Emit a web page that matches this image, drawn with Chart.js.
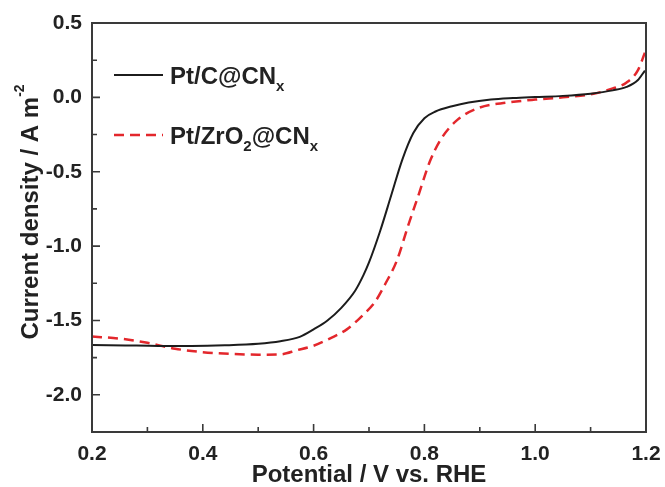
<!DOCTYPE html>
<html>
<head>
<meta charset="utf-8">
<script src="https://cdn.jsdelivr.net/npm/chart.js@4"></script>
<style>
    body { margin: 0; background: #ffffff; }
    #wrap { width: 665px; height: 487px; }
</style>
</head>
<body>
<div id="wrap"><canvas id="chartCanvas" width="665" height="487"></canvas></div>
<script>
"use strict";

// Pt/C@CNx (black, solid)
const ptcX = [0.20, 0.26, 0.32, 0.38, 0.44, 0.50, 0.54, 0.575, 0.60, 0.625, 0.65, 0.675, 0.69, 0.70, 0.72, 0.74,
              0.76, 0.78, 0.80, 0.82, 0.85, 0.88, 0.92, 0.96, 1.00, 1.05, 1.10, 1.14, 1.165, 1.185, 1.198];
const ptcY = [-1.665, -1.668, -1.671, -1.671, -1.667, -1.657, -1.640, -1.610, -1.56, -1.50, -1.415, -1.30, -1.195, -1.11, -0.90, -0.66,
              -0.42, -0.24, -0.14, -0.095, -0.06, -0.035, -0.015, -0.005, 0.002, 0.01, 0.025, 0.047, 0.07, 0.115, 0.18];

// Pt/ZrO2@CNx (red, dashed)
const zrX = [0.20, 0.25, 0.30, 0.35, 0.40, 0.45, 0.50, 0.54, 0.57, 0.60, 0.63, 0.66, 0.69, 0.71, 0.73,
             0.75, 0.77, 0.79, 0.81, 0.83, 0.86, 0.90, 0.95, 1.00, 1.05, 1.10, 1.14, 1.165, 1.185, 1.198];
const zrY = [-1.608, -1.622, -1.65, -1.69, -1.713, -1.725, -1.73, -1.728, -1.70, -1.67, -1.62, -1.56, -1.46, -1.38, -1.25,
             -1.10, -0.87, -0.65, -0.43, -0.28, -0.15, -0.068, -0.035, -0.015, 0.0, 0.02, 0.06, 0.10, 0.18, 0.30];

// Axis ticks
const xTicks = [0.2, 0.4, 0.6, 0.8, 1.0, 1.2];
const xMinorTicks = [0.3, 0.5, 0.7, 0.9, 1.1];
const yTicks = [0.5, 0.0, -0.5, -1.0, -1.5, -2.0];
const yMinorTicks = [0.25, -0.25, -0.75, -1.25, -1.75];

const xTitle = "Potential / V vs. RHE";
const yTitle = "Current density / A m";
const yTitleSup = "-2";

const black = "#1c1c1c";
const red = "#e3272c";
const frameColor = "#3a3a3a";
const textColor = "#222222";
const fontFamily = "'Liberation Sans', Arial, sans-serif";

function toPoints(xs, ys) {
    return xs.map((x, i) => ({x: x, y: ys[i]}));
}

// Draw a run of text parts: {t, size, dy} (dy = baseline shift)
function drawParts(ctx, parts, x, y) {
    parts.forEach((p) => {
        ctx.font = "bold " + p.size + "px " + fontFamily;
        ctx.fillText(p.t, x, y + (p.dy || 0));
        x += ctx.measureText(p.t).width;
    });
}

function partsWidth(ctx, parts) {
    let w = 0;
    parts.forEach((p) => {
        ctx.font = "bold " + p.size + "px " + fontFamily;
        w += ctx.measureText(p.t).width;
    });
    return w;
}

// Frame, inward ticks, y title and legend
const decorPlugin = {
    id: "decor",
    afterDraw(chart) {
        const ctx = chart.ctx;
        const a = chart.chartArea;
        const xs = chart.scales.x;
        const ys = chart.scales.y;

        ctx.save();
        ctx.strokeStyle = frameColor;
        ctx.lineWidth = 2;
        ctx.strokeRect(a.left, a.top, a.right - a.left, a.bottom - a.top);

        ctx.lineWidth = 1.6;
        ctx.beginPath();
        xTicks.forEach((v) => { const p = xs.getPixelForValue(v); ctx.moveTo(p, a.bottom); ctx.lineTo(p, a.bottom - 8); });
        xMinorTicks.forEach((v) => { const p = xs.getPixelForValue(v); ctx.moveTo(p, a.bottom); ctx.lineTo(p, a.bottom - 5); });
        yTicks.forEach((v) => { const p = ys.getPixelForValue(v); ctx.moveTo(a.left, p); ctx.lineTo(a.left + 8, p); });
        yMinorTicks.forEach((v) => { const p = ys.getPixelForValue(v); ctx.moveTo(a.left, p); ctx.lineTo(a.left + 5, p); });
        ctx.stroke();

        // y axis title with superscript
        ctx.fillStyle = textColor;
        ctx.textBaseline = "alphabetic";
        ctx.textAlign = "left";
        const yParts = [{t: yTitle, size: 24}, {t: yTitleSup, size: 14, dy: -14}];
        const w = partsWidth(ctx, yParts);
        ctx.save();
        ctx.translate(38, 212);
        ctx.rotate(-Math.PI / 2);
        drawParts(ctx, yParts, -w / 2, 0);
        ctx.restore();

        // legend
        const entries = [
            {color: black, width: 2, dash: [], y: 75,
             parts: [{t: "Pt/C@CN", size: 24}, {t: "x", size: 15, dy: 7}]},
            {color: red, width: 2.5, dash: [10, 6], y: 135,
             parts: [{t: "Pt/ZrO", size: 24}, {t: "2", size: 15, dy: 7}, {t: "@CN", size: 24}, {t: "x", size: 15, dy: 7}]}
        ];
        entries.forEach((e) => {
            ctx.strokeStyle = e.color;
            ctx.lineWidth = e.width;
            ctx.setLineDash(e.dash);
            ctx.beginPath();
            ctx.moveTo(114, e.y);
            ctx.lineTo(163, e.y);
            ctx.stroke();
            ctx.setLineDash([]);
            ctx.fillStyle = textColor;
            drawParts(ctx, e.parts, 170, e.y + 9);
        });
        ctx.restore();
    }
};

const tickFont = {family: fontFamily, size: 21, weight: "bold"};

const config = {
    type: "scatter",
    data: {
        datasets: [{
            label: "Pt/C@CNx",
            data: toPoints(ptcX, ptcY),
            borderColor: black,
            borderWidth: 2,
            showLine: true,
            pointRadius: 0,
            cubicInterpolationMode: "monotone"
        },
        {
            label: "Pt/ZrO2@CNx",
            data: toPoints(zrX, zrY),
            borderColor: red,
            borderWidth: 2.5,
            borderDash: [10, 6],
            showLine: true,
            pointRadius: 0,
            cubicInterpolationMode: "monotone"
        }]
    },
    options: {
        responsive: false,
        animation: false,
        layout: {padding: {left: 0, right: 19, top: 23, bottom: 0}},
        plugins: {
            legend: {display: false},
            tooltip: {enabled: false}
        },
        scales: {
            x: {
                type: "linear",
                min: 0.2,
                max: 1.2,
                grid: {display: false, drawTicks: false},
                border: {display: false},
                afterBuildTicks: (scale) => { scale.ticks = xTicks.map((v) => ({value: v})); },
                afterFit: (scale) => { scale.height = 55; scale.paddingLeft = 0; scale.paddingRight = 0; },
                ticks: {
                    color: textColor,
                    font: tickFont,
                    padding: 10,
                    maxRotation: 0,
                    callback: (v) => v.toFixed(1)
                },
                title: {
                    display: true,
                    text: xTitle,
                    color: textColor,
                    font: {family: fontFamily, size: 24, weight: "bold", lineHeight: 1.0},
                    padding: {top: 0, bottom: 0}
                }
            },
            y: {
                type: "linear",
                min: -2.25,
                max: 0.5,
                grid: {display: false, drawTicks: false},
                border: {display: false},
                afterBuildTicks: (scale) => { scale.ticks = yTicks.map((v) => ({value: v})); },
                afterFit: (scale) => { scale.width = 92; scale.paddingTop = 0; scale.paddingBottom = 0; },
                ticks: {
                    color: textColor,
                    font: tickFont,
                    padding: 10,
                    callback: (v) => v.toFixed(1)
                }
            }
        }
    },
    plugins: [decorPlugin]
};

const chart = new Chart(document.getElementById("chartCanvas").getContext("2d"), config);
</script>
</body>
</html>
